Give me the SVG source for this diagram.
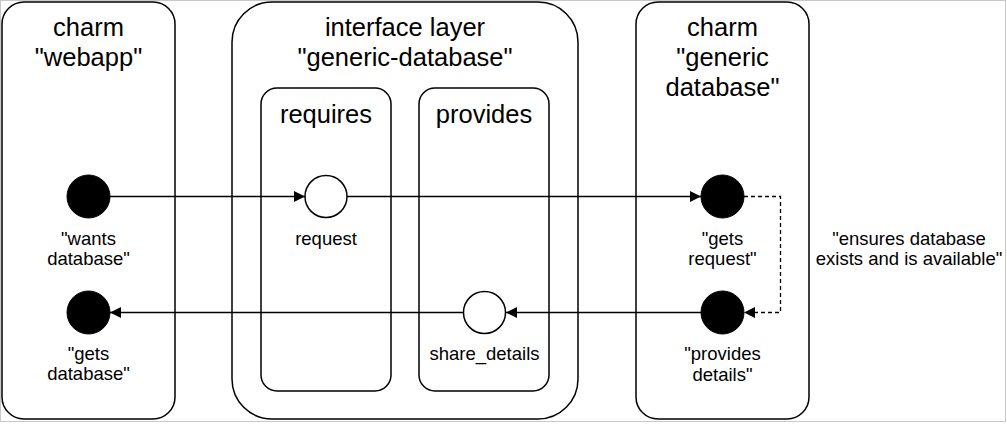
<svg xmlns="http://www.w3.org/2000/svg" width="1007" height="424" viewBox="0 0 1007 424">
<style>
.box{fill:#fff;stroke:#000;stroke-width:1.5}
.t{font-family:"Liberation Sans",Arial,sans-serif;font-size:25.5px;text-anchor:middle;fill:#000}
.s{font-family:"Liberation Sans",Arial,sans-serif;font-size:18.5px;text-anchor:middle;fill:#000}
.dot{fill:#000;stroke:#000;stroke-width:1}
.ring{fill:#fff;stroke:#000;stroke-width:1.5}
.ln{fill:none;stroke:#000;stroke-width:1.3}
</style>
<defs>
<marker id="ah" viewBox="0 0 10 10" refX="10" refY="5" markerWidth="11" markerHeight="11" markerUnits="userSpaceOnUse" orient="auto">
<path d="M0,0 L10,5 L0,10 z" fill="#000"/>
</marker>
</defs>
<rect x="0.5" y="0.5" width="1005" height="421" fill="#fff" stroke="#c8c8c8" stroke-width="1"/>
<g id="charm-webapp">
<rect class="box" x="2" y="2" width="173" height="417" rx="22"/>
<text class="t" x="88.5" y="36">charm</text>
<text class="t" x="88.5" y="66">"webapp"</text>
</g>
<g id="interface-layer">
<rect class="box" x="232" y="2" width="346" height="417" rx="40"/>
<text class="t" x="405" y="36">interface layer</text>
<text class="t" x="405" y="66">"generic-database"</text>
</g>
<g id="requires">
<rect class="box" x="261" y="88" width="130" height="303" rx="16"/>
<text class="t" x="326" y="123">requires</text>
</g>
<g id="provides">
<rect class="box" x="419" y="88" width="130" height="303" rx="16"/>
<text class="t" x="484" y="123">provides</text>
</g>
<g id="charm-generic-database">
<rect class="box" x="636" y="2" width="173" height="417" rx="22"/>
<text class="t" x="722.5" y="36">charm</text>
<text class="t" x="722.5" y="66">"generic</text>
<text class="t" x="722.5" y="96">database"</text>
</g>
<g id="connectors">
<line class="ln" x1="110" y1="196.5" x2="305" y2="196.5" marker-end="url(#ah)"/>
<line class="ln" x1="347" y1="196.5" x2="701" y2="196.5" marker-end="url(#ah)"/>
<line class="ln" x1="701" y1="312.5" x2="506" y2="312.5" marker-end="url(#ah)"/>
<line class="ln" x1="463" y1="312.5" x2="110" y2="312.5" marker-end="url(#ah)"/>
<path class="ln" d="M744,196.5 H780.5 V312.5 H744" stroke-dasharray="4 3" marker-end="url(#ah)"/>
</g>
<g id="wants-database">
<circle class="dot" cx="88.5" cy="196.5" r="21.5"/>
<text class="s" x="88.5" y="245">"wants</text>
<text class="s" x="88.5" y="265">database"</text>
</g>
<g id="gets-database">
<circle class="dot" cx="88.5" cy="312.5" r="21.5"/>
<text class="s" x="88.5" y="360">"gets</text>
<text class="s" x="88.5" y="380">database"</text>
</g>
<g id="request">
<circle class="ring" cx="326" cy="196.5" r="21"/>
<text class="s" x="326" y="245">request</text>
</g>
<g id="share_details">
<circle class="ring" cx="484.5" cy="312.5" r="21"/>
<text class="s" x="484.5" y="360">share_details</text>
</g>
<g id="gets-request">
<circle class="dot" cx="722.5" cy="196.5" r="21.5"/>
<text class="s" x="722.5" y="245">"gets</text>
<text class="s" x="722.5" y="265">request"</text>
</g>
<g id="provides-details">
<circle class="dot" cx="722.5" cy="312.5" r="21.5"/>
<text class="s" x="722.5" y="360">"provides</text>
<text class="s" x="722.5" y="381">details"</text>
</g>
<g id="ensures">
<text class="s" x="909" y="245">"ensures database</text>
<text class="s" x="909" y="265">exists and is available"</text>
</g>
</svg>
